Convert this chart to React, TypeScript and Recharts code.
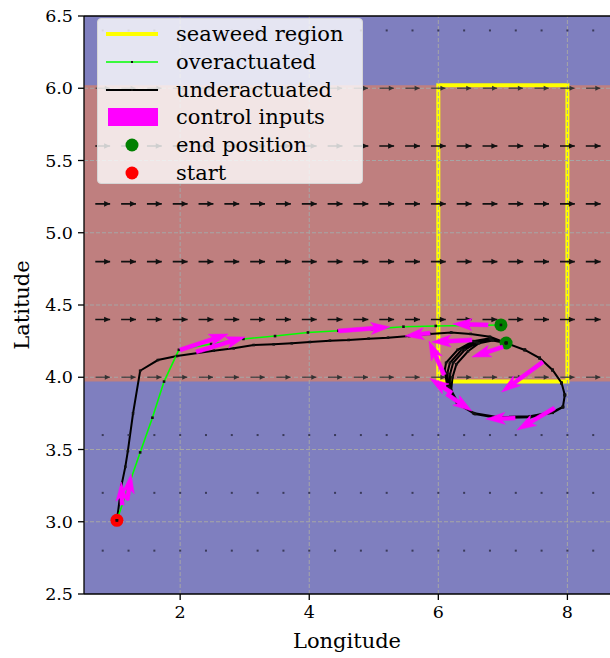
import React from "react";
import {
  ComposedChart,
  Line,
  Scatter,
  XAxis,
  YAxis,
  ReferenceArea,
  ReferenceLine,
  Legend,
  Label,
} from "recharts";

const W = 610;
const H = 658;
const FONT = "'DejaVu Serif', serif";

const lonDomain = [0.51, 8.66];
const latDomain = [2.5, 6.5];
const lonTicks = [2, 4, 6, 8];
const latTicks = [2.5, 3.0, 3.5, 4.0, 4.5, 5.0, 5.5, 6.0, 6.5];

// ocean current field (eastward component only)
const currentLons = [0.8, 1.2, 1.6, 2.0, 2.4, 2.8, 3.2, 3.6, 4.0, 4.4, 4.8, 5.2, 5.6, 6.0, 6.4, 6.8, 7.2, 7.6, 8.0, 8.4];
const currentLats = [2.8, 3.2, 3.6, 4.0, 4.4, 4.8, 5.2, 5.6, 6.0, 6.4];
const currentU = [0, 0, 0, 0.22, 0.23, 0.23, 0.23, 0.23, 0.22, 0];
const currentFaint = [false, false, false, true, false, false, false, false, true, false];

// seaweed region
const bandLat = [3.97, 6.02];
const seaweedLon = [6.0, 8.0, 8.0, 6.0, 6.0];
const seaweedLat = [3.97, 3.97, 6.02, 6.02, 3.97];

// trajectories
const overLon = [1.02, 1.225, 1.38, 1.57, 1.75, 1.98, 2.48, 2.98, 3.47, 3.98, 4.45, 4.97, 5.46, 5.96, 6.46, 6.97];
const overLat = [3.01, 3.28, 3.48, 3.72, 3.97, 4.19, 4.23, 4.265, 4.285, 4.31, 4.322, 4.334, 4.35, 4.355, 4.358, 4.362];

const underLon = [
  1.02, 1.09, 1.15, 1.19, 1.27, 1.38, 1.655, 1.95, 2.52, 2.83, 3.14, 3.45, 3.73, 4.01, 4.32, 4.61, 4.92, 5.22, 5.55, 5.87, 6.2, 6.5, 6.8, 7.05,
  7.34, 7.57, 7.77, 7.91, 7.96, 7.93, 7.77, 7.42, 6.91, 6.54, 6.29, 6.14, 6.10, 6.12, 6.30, 6.54, 6.80, 7.05,
  7.34, 7.57, 7.77, 7.91, 7.96, 7.93, 7.77, 7.42, 6.91, 6.55, 6.30, 6.16, 6.14, 6.18, 6.36, 6.57, 6.81, 7.05,
  7.34, 7.57, 7.77, 7.91, 7.96, 7.93, 7.77, 7.42, 6.92, 6.56, 6.31, 6.18, 6.18, 6.23, 6.41, 6.60, 6.82, 7.05,
  7.34, 7.57, 7.77, 7.91, 7.96, 7.93, 7.77, 7.42, 6.92, 6.57, 6.32, 6.20, 6.22, 6.28, 6.46, 6.63, 6.84, 7.05,
];
const underLat = [
  3.01, 3.25, 3.38, 3.49, 3.75, 4.045, 4.119, 4.147, 4.184, 4.2, 4.223, 4.228, 4.235, 4.244, 4.253, 4.258, 4.267, 4.274, 4.285, 4.3, 4.31, 4.3, 4.28, 4.237,
  4.189, 4.133, 4.05, 3.96, 3.877, 3.794, 3.76, 3.73, 3.725, 3.753, 3.82, 3.93, 4.05, 4.1, 4.19, 4.25, 4.27, 4.237,
  4.189, 4.133, 4.05, 3.96, 3.877, 3.794, 3.758, 3.728, 3.723, 3.75, 3.82, 3.93, 4.03, 4.1, 4.19, 4.245, 4.265, 4.237,
  4.189, 4.133, 4.05, 3.96, 3.877, 3.794, 3.756, 3.726, 3.72, 3.748, 3.82, 3.92, 4.02, 4.1, 4.19, 4.24, 4.26, 4.237,
  4.189, 4.133, 4.05, 3.96, 3.877, 3.794, 3.754, 3.724, 3.718, 3.745, 3.81, 3.91, 4.0, 4.09, 4.18, 4.235, 4.255, 4.237,
];

// control inputs (tail -> head)
const ctrlTailLon = [1.10, 1.18, 2.0, 2.25, 4.45, 5.87, 6.77, 6.52, 7.0, 6.09, 7.62, 6.21, 6.13, 7.19, 7.8];
const ctrlTailLat = [3.116, 3.15, 4.189, 4.175, 4.32, 4.306, 4.362, 4.258, 4.21, 4.016, 4.106, 3.891, 3.884, 3.718, 3.787];
const ctrlHeadLon = [1.087, 1.24, 2.743, 3.006, 5.251, 5.483, 6.226, 5.9, 6.52, 5.855, 6.98, 5.87, 6.52, 6.74, 7.22];
const ctrlHeadLat = [3.275, 3.33, 4.299, 4.279, 4.348, 4.285, 4.369, 4.244, 4.14, 4.25, 3.898, 3.992, 3.766, 3.711, 3.635];

const endLon = [6.97, 7.05];
const endLat = [4.362, 4.237];
const startLon = [1.02];
const startLat = [3.01];

const legendItems = ["seaweed region", "overactuated", "underactuated", "control inputs", "end position", "start"];

type Pt = { lon: number; lat: number | null; head?: boolean };

const toPts = (lons: number[], lats: number[]): Pt[] => lons.map((lon, i) => ({ lon, lat: lats[i] }));

function buildQuiver(faint: boolean): Pt[] {
  const out: Pt[] = [];
  currentLats.forEach((lat, j) => {
    const u = currentU[j];
    if (u === 0 || currentFaint[j] !== faint) return;
    currentLons.forEach((lon) => {
      out.push({ lon: lon - u / 2, lat });
      out.push({ lon: lon + u / 2, lat, head: true });
      out.push({ lon: lon + u / 2, lat: null });
    });
  });
  return out;
}

const calmPts = currentLats.flatMap((lat, j) => (currentU[j] === 0 ? currentLons.map((lon) => ({ lon, lat })) : []));

const ctrlPts: Pt[] = ctrlTailLon.flatMap((lon, i) => [
  { lon, lat: ctrlTailLat[i] },
  { lon: ctrlHeadLon[i], lat: ctrlHeadLat[i], head: true },
  { lon: ctrlHeadLon[i], lat: null },
]);

const quiverHead = (color: string, hl: number, hw: number) => (props: any) => {
  const { cx, cy, payload, points, index } = props;
  if (!payload?.head || cy == null || !points || !points[index - 1]) return <g key={`q${index}`} />;
  const p = points[index - 1];
  const dx = cx - p.x;
  const dy = cy - p.y;
  const len = Math.hypot(dx, dy) || 1;
  const ux = dx / len;
  const uy = dy / len;
  const bx = cx - ux * hl;
  const by = cy - uy * hl;
  const d = `M${cx},${cy} L${bx - uy * hw},${by + ux * hw} L${bx + uy * hw},${by - ux * hw} Z`;
  return <path key={`q${index}`} d={d} fill={color} stroke="none" />;
};

const controlArrow = (props: any) => {
  const { cx, cy, payload, points, index } = props;
  if (!payload?.head || cy == null || !points || !points[index - 1]) return <g key={`c${index}`} />;
  const p = points[index - 1];
  const dx = cx - p.x;
  const dy = cy - p.y;
  const L = Math.hypot(dx, dy) || 1;
  const ux = dx / L;
  const uy = dy / L;
  const nx = -uy;
  const ny = ux;
  let w = 2;
  let hw = 6;
  let hl = 19;
  let hal = 16;
  if (L < hl) {
    const s = L / hl;
    w *= s;
    hw *= s;
    hl *= s;
    hal *= s;
  }
  const at = (a: number, b: number) => `${p.x + ux * a + nx * b},${p.y + uy * a + ny * b}`;
  const d = `M${at(0, w)} L${at(L - hal, w)} L${at(L - hl, hw)} L${at(L, 0)} L${at(L - hl, -hw)} L${at(L - hal, -w)} L${at(0, -w)} Z`;
  return <path key={`c${index}`} d={d} fill="#ff00ff" stroke="#ff00ff" strokeWidth={0.5} />;
};

const smallDot = (props: any) => {
  const { cx, cy, index } = props;
  if (cy == null) return <g key={`s${index}`} />;
  return <rect key={`s${index}`} x={cx - 1.3} y={cy - 1.3} width={2.6} height={2.6} fill="#111" />;
};

const calmDot = (props: any) => {
  const { cx, cy } = props;
  return <rect x={cx - 1} y={cy - 1} width={2} height={2} fill="#3a3a5a" />;
};

const bigDot = (color: string) => (props: any) => {
  const { cx, cy } = props;
  return <circle cx={cx} cy={cy} r={6.5} fill={color} />;
};

function LegendBox() {
  const icons = [
    <line x1={8} x2={60} y1={14} y2={14} stroke="#ffff00" strokeWidth={4} />,
    <g>
      <line x1={8} x2={60} y1={14} y2={14} stroke="#00ff00" strokeWidth={1.5} />
      <rect x={33} y={13} width={2} height={2} fill="#111" />
    </g>,
    <g>
      <line x1={8} x2={60} y1={14} y2={14} stroke="#000" strokeWidth={1.8} />
      <rect x={33} y={13} width={2} height={2} fill="#111" />
    </g>,
    <rect x={10} y={5} width={50} height={18} fill="#ff00ff" />,
    <circle cx={34} cy={14} r={6.5} fill="#008000" />,
    <circle cx={34} cy={14} r={6.5} fill="#ff0000" />,
  ];
  return (
    <div
      style={{
        width: 266,
        height: 166,
        boxSizing: "border-box",
        background: "rgba(255,255,255,0.8)",
        border: "1px solid #d6d6d6",
        borderRadius: 4,
        paddingTop: 1,
        fontFamily: FONT,
        fontSize: 21,
        color: "#000",
      }}
    >
      {legendItems.map((name, i) => (
        <div key={name} style={{ display: "flex", alignItems: "center", height: 27.8 }}>
          <svg width={78} height={28} style={{ flex: "none" }}>
            {icons[i]}
          </svg>
          <span style={{ lineHeight: "28px", whiteSpace: "nowrap" }}>{name}</span>
        </div>
      ))}
    </div>
  );
}

export default function App() {
  const tickStyle = { fontFamily: FONT, fontSize: 17.5, fill: "#000" };
  const gridStroke = "#a6a6a6";
  return (
    <div style={{ position: "absolute", left: 0, top: 0, width: W, height: H, background: "#fff" }}>
      <ComposedChart width={W} height={H} margin={{ top: 16, right: 0, bottom: 0, left: 0 }}>
        <XAxis
          dataKey="lon"
          type="number"
          domain={lonDomain}
          ticks={lonTicks}
          allowDataOverflow
          height={64}
          tick={tickStyle}
          tickSize={6}
          tickMargin={6}
          stroke="#000"
          strokeWidth={1.3}
        >
          <Label value="Longitude" position="insideBottom" offset={10} style={{ fontFamily: FONT, fontSize: 21, fill: "#000" }} />
        </XAxis>
        <YAxis
          dataKey="lat"
          type="number"
          domain={latDomain}
          ticks={latTicks}
          allowDataOverflow
          width={84}
          tick={tickStyle}
          tickSize={6}
          tickMargin={5}
          tickFormatter={(v: number) => v.toFixed(1)}
          stroke="#000"
          strokeWidth={1.3}
        >
          <Label value="Latitude" angle={-90} position="insideLeft" offset={22} style={{ fontFamily: FONT, fontSize: 21, fill: "#000", textAnchor: "middle" }} />
        </YAxis>

        <ReferenceArea x1={lonDomain[0]} x2={lonDomain[1]} y1={latDomain[0]} y2={latDomain[1]} fill="#7f7fbf" fillOpacity={1} stroke="none" />
        <ReferenceArea x1={lonDomain[0]} x2={lonDomain[1]} y1={bandLat[0]} y2={bandLat[1]} fill="#bf7f7f" fillOpacity={1} stroke="none" />

        <Line
          data={toPts(seaweedLon, seaweedLat)}
          dataKey="lat"
          stroke="#ffff00"
          strokeWidth={4}
          dot={false}
          activeDot={false}
          isAnimationActive={false}
          legendType="none"
        />

        {lonTicks.map((v) => (
          <ReferenceLine key={`gx${v}`} x={v} stroke={gridStroke} strokeDasharray="4 2" strokeWidth={1} />
        ))}
        {latTicks.slice(1, -1).map((v) => (
          <ReferenceLine key={`gy${v}`} y={v} stroke={gridStroke} strokeDasharray="4 2" strokeWidth={1} />
        ))}

        <Line
          data={buildQuiver(false)}
          dataKey="lat"
          stroke="#111"
          strokeWidth={1.6}
          connectNulls={false}
          dot={quiverHead("#111", 6, 2.8)}
          activeDot={false}
          isAnimationActive={false}
          legendType="none"
        />
        <Line
          data={buildQuiver(true)}
          dataKey="lat"
          stroke="#333"
          strokeOpacity={0.75}
          strokeWidth={1.3}
          connectNulls={false}
          dot={quiverHead("#333", 5, 2.4)}
          activeDot={false}
          isAnimationActive={false}
          legendType="none"
        />
        <Scatter data={calmPts} dataKey="lat" shape={calmDot} isAnimationActive={false} legendType="none" />

        <Line
          data={toPts(underLon, underLat)}
          dataKey="lat"
          stroke="#000"
          strokeWidth={2}
          dot={smallDot}
          activeDot={false}
          isAnimationActive={false}
          legendType="none"
        />
        <Line
          data={toPts(overLon, overLat)}
          dataKey="lat"
          stroke="#00ff00"
          strokeWidth={1.6}
          dot={smallDot}
          activeDot={false}
          isAnimationActive={false}
          legendType="none"
        />
        <Line
          data={ctrlPts}
          dataKey="lat"
          stroke="none"
          connectNulls={false}
          dot={controlArrow}
          activeDot={false}
          isAnimationActive={false}
          legendType="none"
        />

        <Scatter data={toPts(endLon, endLat)} dataKey="lat" shape={bigDot("#008000")} isAnimationActive={false} legendType="none" />
        <Scatter data={toPts(startLon, startLat)} dataKey="lat" shape={bigDot("#ff0000")} isAnimationActive={false} legendType="none" />

        <ReferenceLine y={latDomain[1]} stroke="#000" strokeWidth={1.5} />

        <Legend
          layout="horizontal"
          align="center"
          verticalAlign="middle"
          content={() => <LegendBox />}
          wrapperStyle={{ left: 97, top: 18, width: 266, height: 166 }}
        />
      </ComposedChart>
    </div>
  );
}
